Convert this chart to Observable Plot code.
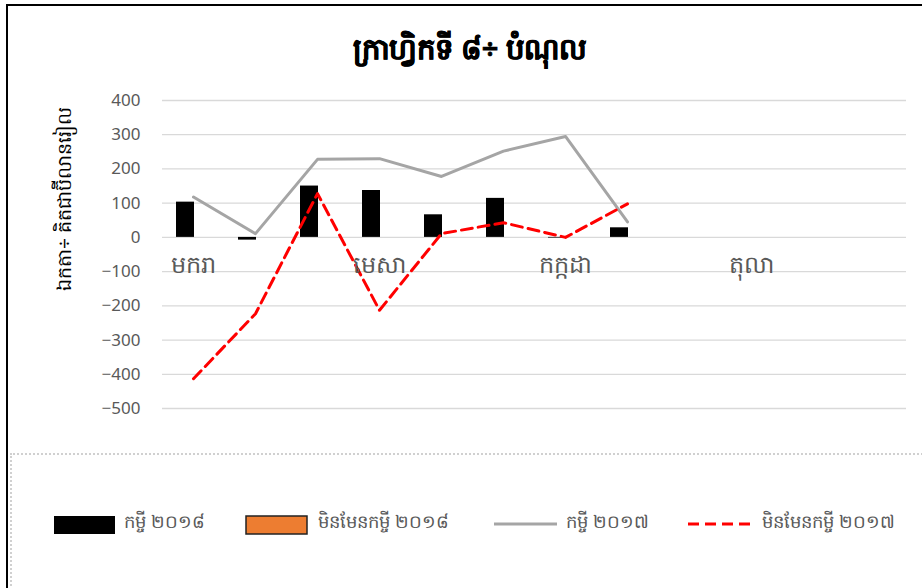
<!DOCTYPE html>
<html><head><meta charset="utf-8">
<script src="https://cdn.jsdelivr.net/npm/d3@7"></script>
<script src="https://cdn.jsdelivr.net/npm/@observablehq/plot@0.6"></script>
<style>
body{margin:0;background:#fff;font-family:"Noto Sans","DejaVu Sans",sans-serif;}
#wrap{position:relative;width:922px;height:588px;overflow:hidden;}
#frame{position:absolute;left:6px;top:4px;width:1000px;height:700px;border:2px solid #000;box-sizing:border-box;}
#title{position:absolute;left:0;top:28px;width:940px;text-align:center;font-size:29px;font-weight:bold;color:#000;-webkit-text-stroke:0.6px #000;}
#ylab{position:absolute;left:65px;top:199px;transform:translate(-50%,-50%) rotate(-90deg);font-size:19px;color:#000;white-space:nowrap;}
#chart{position:absolute;left:0;top:80px;}
#legendBox{position:absolute;left:10px;top:453px;width:1000px;height:200px;border:2px dotted #d0d0d0;box-sizing:border-box;}
.li{position:absolute;top:509px;font-size:18px;color:#595959;white-space:nowrap;}
</style></head>
<body><div id="wrap">
<div id="frame"></div>
<div id="title"></div>
<div id="chart"></div>
<div id="ylab"></div>
<div id="legendBox"></div>
<div id="legend"></div>
</div>
<script>
const titleText = "ក្រាហ្វិកទី ៨÷ បំណុល";
const yLabel = "ឯកតា÷ គិតជាប៊ីលានរៀល";
const months = ["មករា","កុម្ភៈ","មីនា","មេសា","ឧសភា","មិថុនា","កក្កដា","សីហា","កញ្ញា","តុលា","វិច្ឆិកា","ធ្នូ"];
const tickMonths = ["មករា","មេសា","កក្កដា","តុលា"];
const yTicks = [400,300,200,100,0,-100,-200,-300,-400,-500];
const seriesNames = ["កម្ចី ២០១៨","មិនមែនកម្ចី ២០១៨","កម្ចី ២០១៧","មិនមែនកម្ចី ២០១៧"];
const loan2018 = [103,-8,150,137,66,114,-2,28];
const nonLoan2018 = [];
const loan2017 = [118,11,228,230,178,252,295,45];
const nonLoan2017 = [-413,-223,128,-213,11,43,0,98];

document.getElementById("title").textContent = titleText;
document.getElementById("ylab").textContent = yLabel;

const toRows = arr => arr.map((v,i)=>({month: months[i], value: v}));
const bars = toRows(loan2018);
const bars2 = toRows(nonLoan2018);
const l17 = toRows(loan2017);
const n17 = toRows(nonLoan2017);

const plot = Plot.plot({
  width: 922, height: 370,
  marginLeft: 162, marginRight: 16, marginTop: 20, marginBottom: 42,
  x: {type: "band", domain: months, padding: 0, round: false, axis: null},
  y: {domain: [-500, 400], ticks: yTicks},
  style: {fontFamily: "'Noto Sans', 'DejaVu Sans', sans-serif", fontSize: "16px", color: "#595959", background: "transparent"},
  marks: [
    Plot.ruleY(yTicks, {stroke: "#d9d9d9", strokeWidth: 1.3}),
    Plot.axisY({ticks: yTicks, tickSize: 0, tickPadding: 22, fontSize: 17, fill: "#595959", label: null}),
    Plot.barY(bars, {x: "month", y: "value", fill: "#000", insetLeft: 14, insetRight: 30}),
    Plot.barY(bars2, {x: "month", y: "value", fill: "#ed7d31", insetLeft: 31, insetRight: 13}),
    Plot.line(l17, {x: "month", y: "value", stroke: "#a5a5a5", strokeWidth: 3}),
    Plot.line(n17, {x: "month", y: "value", stroke: "#ff0000", strokeWidth: 3, strokeDasharray: "11,6"}),
    Plot.text(tickMonths, {x: d => d, y: 0, dy: 28, fontSize: 24, fill: "#595959"})
  ]
});
document.getElementById("chart").appendChild(plot);

const legend = document.getElementById("legend");
const items = [
  {x: 53, tx: 124, kind: "rect", fill: "#000", stroke: "none"},
  {x: 245, tx: 318, kind: "rect", fill: "#ed7d31", stroke: "#222"},
  {x: 493, tx: 566, kind: "line", stroke: "#a5a5a5", dash: ""},
  {x: 687, tx: 762, kind: "line", stroke: "#ff0000", dash: "11,6"}
];
items.forEach((it, i) => {
  const sw = document.createElementNS("http://www.w3.org/2000/svg", "svg");
  sw.setAttribute("width", 68); sw.setAttribute("height", 22);
  sw.style.position = "absolute"; sw.style.left = it.x + "px"; sw.style.top = "514px";
  if (it.kind === "rect") {
    sw.innerHTML = `<rect x="1" y="2" width="61" height="18" fill="${it.fill}" stroke="${it.stroke}" stroke-width="${it.stroke==='none'?0:1.5}"/>`;
  } else {
    sw.innerHTML = `<line x1="1" x2="64" y1="10" y2="10" stroke="${it.stroke}" stroke-width="3" stroke-dasharray="${it.dash}"/>`;
  }
  legend.appendChild(sw);
  const t = document.createElement("div");
  t.className = "li"; t.style.left = it.tx + "px"; t.textContent = seriesNames[i];
  legend.appendChild(t);
});
</script>
</body></html>
